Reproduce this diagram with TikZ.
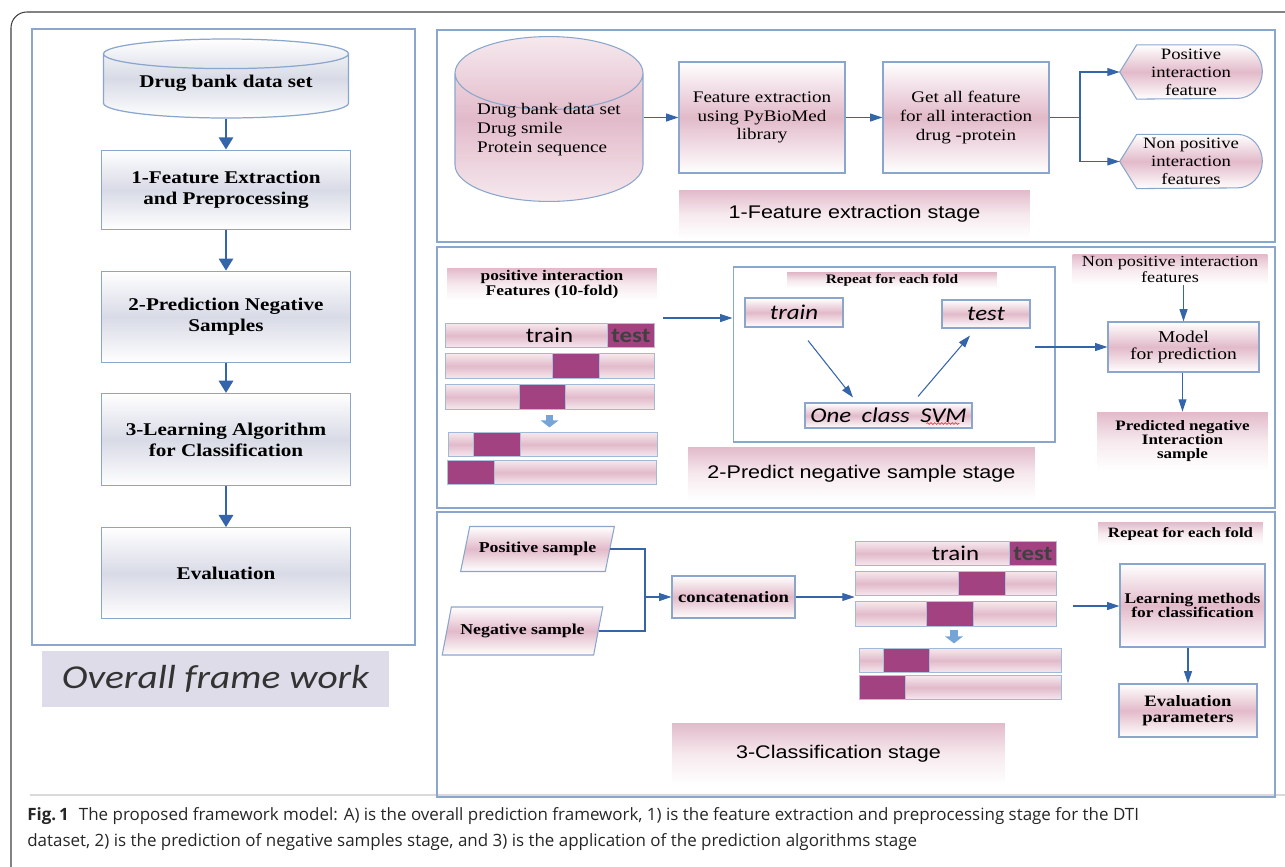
\documentclass[tikz,border=0pt]{standalone}
\usepackage{fontspec}
\setmainfont{Liberation Serif}
\newfontfamily\figserif[FakeStretch=1.18]{Liberation Serif}
\newfontfamily\figsans[FakeStretch=1.18]{Liberation Sans}
\newfontfamily\figcalib[FakeStretch=1.18]{Carlito}
\newfontfamily\capsans{Open Sans}
\usepackage{tikz}
\usetikzlibrary{arrows.meta, positioning, shapes.geometric, backgrounds, decorations.pathmorphing}
\definecolor{frameblue}{RGB}{138,166,204}
\definecolor{arrowblue}{RGB}{52,100,170}
\definecolor{boxgray}{RGB}{216,218,230}
\definecolor{rosefill}{RGB}{226,186,201}
\definecolor{roselight}{RGB}{246,233,238}
\definecolor{testmag}{RGB}{163,66,128}
\definecolor{labelgray}{RGB}{221,220,232}
\definecolor{foldblue}{RGB}{118,164,214}

\begin{document}
\begin{tikzpicture}[
    x=0.02cm, y=-0.02cm,
    panel/.style={draw=frameblue, line width=1.2pt},
    leftbox/.style={rectangle, draw=frameblue, line width=0.7pt, top color=white, bottom color=white,
                    middle color=boxgray, minimum width=4.98cm, align=center,
                    font=\figserif\bfseries\fontsize{10.2}{11.8}\selectfont},
    rosebox/.style={rectangle, draw=frameblue, line width=0.6pt, top color=white, bottom color=white,
                    middle color=rosefill, align=center, inner sep=1pt},
    roselabel/.style={rectangle, top color=rosefill, bottom color=white, middle color=roselight,
                    align=center, inner sep=1pt},
    stagelabel/.style={roselabel, font=\figsans\fontsize{10.4}{12}\selectfont},
    serifsmall/.style={font=\figserif\fontsize{9.2}{10.6}\selectfont},
    boldsmall/.style={font=\figserif\bfseries\fontsize{8.4}{8.6}\selectfont},
    fold/.style={rectangle, draw=frameblue!80, line width=0.5pt, top color=roselight, bottom color=roselight,
                 middle color=rosefill, minimum width=4.18cm, minimum height=0.49cm, inner sep=0pt,
                 font=\figcalib\fontsize{12}{12}\selectfont},
    testblk/.style={rectangle, fill=testmag, draw=frameblue!70, line width=0.4pt, minimum width=0.93cm,
                    minimum height=0.49cm, inner sep=0pt, font=\figcalib\bfseries\fontsize{12}{12}\selectfont,
                    text=black!75},
    dispnode/.style={rectangle, minimum width=2.84cm, minimum height=1.07cm, inner sep=0pt, align=center,
                     font=\figserif\fontsize{9}{10.2}\selectfont},
    dispfill/.style={draw=frameblue, line width=0.6pt, top color=white, bottom color=white, middle color=rosefill},
    sample/.style={trapezium, trapezium left angle=60, trapezium right angle=120, trapezium stretches=true,
                   draw=frameblue, line width=0.6pt, top color=white, bottom color=white, middle color=rosefill,
                   minimum width=3.1cm, minimum height=0.9cm, inner sep=0pt,
                   font=\figserif\bfseries\fontsize{8.6}{9}\selectfont},
    thinline/.style={arrowblue, line width=0.6pt},
    thinarrow/.style={thinline, -{Triangle[length=7pt,width=4.5pt]}},
    thickarrow/.style={-{Triangle[length=7pt,width=8pt]}, arrowblue, line width=1.7pt},
    blockarrow/.style={-{Triangle[length=4pt,width=10pt]}, foldblue, line width=4.5pt}
]
\useasboundingbox (0,0) rectangle (1285,866);

% figure frame
\draw[black!75, line width=0.6pt, rounded corners=9pt] (11,12) rectangle (1310,890);
\draw[black!15, line width=0.8pt] (30,795) -- (1285,795);

% overall framework
\draw[panel] (32,29) rectangle (415,645);
\node[cylinder, shape border rotate=90, aspect=0.16, draw=frameblue, line width=0.7pt, anchor=shape center,
      minimum width=4.9cm, minimum height=1.58cm, top color=white, bottom color=white, middle color=boxgray,
      font=\figserif\bfseries\fontsize{10.2}{11.8}\selectfont] (dbank) at (226,78.5)
    {\raisebox{3pt}[\height][\depth]{Drug bank data set}};
\node[leftbox, minimum height=1.58cm, below=0.62cm of dbank] (prep) {1-Feature Extraction\\and Preprocessing};
\node[leftbox, minimum height=1.82cm, below=0.82cm of prep] (negs) {2-Prediction Negative\\Samples};
\node[leftbox, minimum height=1.84cm, below=0.6cm of negs] (learn) {3-Learning Algorithm\\for Classification};
\node[leftbox, minimum height=1.82cm, below=0.82cm of learn] (evalbox) {Evaluation};
\node[fill=labelgray, minimum width=6.94cm, minimum height=1.12cm, text=black!80,
      font=\figcalib\itshape\fontsize{19}{20}\selectfont] (overall) at (215.5,679) {Overall frame work};

\draw[thickarrow] (dbank) -- (prep);
\draw[thickarrow] (prep) -- (negs);
\draw[thickarrow] (negs) -- (learn);
\draw[thickarrow] (learn) -- (evalbox);

% 1-feature extraction stage
\draw[panel] (437,30) rectangle (1275,242);
\node[cylinder, shape border rotate=90, aspect=0.47, draw=frameblue, line width=0.6pt, anchor=shape center,
      minimum width=3.76cm, minimum height=3.04cm, top color=roselight, bottom color=roselight, middle color=rosefill,
      serifsmall] (drugdb) at (549,119)
    {\raisebox{8pt}[\height][\depth]{\begin{tabular}{@{}l@{}}Drug bank data set\\Drug smile\\Protein sequence\end{tabular}}};
\node[rosebox, minimum width=3.32cm, minimum height=2.22cm, serifsmall] (fext) at (762,117.5)
    {Feature extraction\\using PyBioMed\\library};
\node[rosebox, minimum width=3.32cm, minimum height=2.22cm, serifsmall] (getall) at (966,117.5)
    {Get all feature\\for all interaction\\drug -protein};
\node[dispnode] (posfeat) at (1191,72) {Positive\\interaction\\feature};
\node[dispnode] (nonfeat) at (1191,161.5) {Non positive\\interaction\\features};
\begin{scope}[on background layer]
\foreach \d in {posfeat, nonfeat}
    \path[dispfill] (\d.west) -- ([xshift=0.34cm]\d.north west) -- ([xshift=-0.5cm]\d.north east)
        arc[start angle=90, end angle=-90, x radius=0.5cm, y radius=0.535cm] -- ([xshift=0.34cm]\d.south west) -- cycle;
\end{scope}
\node[stagelabel, minimum width=7.02cm, minimum height=0.96cm] (stage1) at (854.5,214) {1-Feature extraction stage};

\coordinate (split) at (1080,117.5);
\draw[thinarrow] (drugdb.east |- fext.west) -- (fext.west);
\draw[thinarrow] (fext) -- (getall);
\draw[thinline] (getall.east) -- (split);
\draw[thinarrow] (split) |- (posfeat.west);
\draw[thinarrow] (split) |- (nonfeat.west);

% 2-predict negative sample stage
\draw[panel] (437,247) rectangle (1275,508);
\node[roselabel, minimum width=4.2cm, minimum height=0.5cm, boldsmall] (posint) at (552,284)
    {positive interaction\\Features (10-fold)};
\node[fold] (fold1) at (549.5,335.5) {train};
\node[testblk, anchor=east] (test1) at (fold1.east) {test};
\node[fold] (fold2) at (549.5,366) {};
\node[testblk] (test2) at (576,366) {};
\node[fold] (fold3) at (549.5,397) {};
\node[testblk] (test3) at (542.5,397) {};
\node[fold] (fold4) at (552.5,444.5) {};
\node[testblk] (test4) at (497,444.5) {};
\node[fold] (fold5) at (552,472.5) {};
\node[testblk, anchor=west] (test5) at (fold5.west) {};
\draw[blockarrow, shorten <=3pt, shorten >=2.5pt] (fold3.south) -- (fold3.south |- fold4.north);

\node[draw=frameblue, line width=0.6pt, minimum width=6.44cm, minimum height=3.5cm] (repeatbox) at (894,354.5) {};
\node[roselabel, minimum width=4.2cm, minimum height=0.28cm, font=\figserif\bfseries\fontsize{7.4}{8}\selectfont]
    (rep2) at (892,280.5) {Repeat for each fold};
\node[rosebox, minimum width=1.96cm, minimum height=0.58cm, font=\figcalib\itshape\fontsize{12}{12}\selectfont]
    (trainbox) at (794,312.5) {train};
\node[rosebox, minimum width=1.76cm, minimum height=0.56cm, font=\figcalib\itshape\fontsize{12}{12}\selectfont]
    (testbox) at (986,314) {test};
\node[rosebox, minimum width=3.34cm, minimum height=0.5cm, font=\figcalib\itshape\fontsize{12}{12}\selectfont]
    (svm) at (888.5,415.5) {One\hspace{0.5em}class\hspace{0.5em}SVM};
\draw[red!80, line width=0.4pt, decorate, decoration={snake, amplitude=0.5pt, segment length=2pt}]
    ([xshift=0.76cm,yshift=-0.16cm]svm.center) -- ([xshift=1.42cm,yshift=-0.16cm]svm.center);
\draw[thinarrow] ([xshift=0.28cm,yshift=-0.26cm]trainbox.south) -- ([xshift=-0.71cm,yshift=0.1cm]svm.north);
\draw[thinarrow] ([xshift=0.59cm,yshift=0.12cm]svm.north) -- ([xshift=-0.32cm,yshift=-0.14cm]testbox.south);

\node[roselabel, minimum width=3.9cm, font=\figserif\fontsize{8.8}{9.4}\selectfont] (nonpos) at (1170,269.5)
    {Non positive interaction\\features};
\node[rosebox, minimum width=3.02cm, minimum height=1.0cm, font=\figserif\fontsize{9.4}{10}\selectfont]
    (model) at (1183.5,347) {Model\\for prediction};
\node[roselabel, minimum width=3.42cm, minimum height=1.16cm, font=\figserif\bfseries\fontsize{8.2}{8.2}\selectfont]
    (predneg) at (1182.5,441) {Predicted negative\\Interaction\\sample};
\node[stagelabel, minimum width=6.94cm, minimum height=1.06cm] (stage2) at (861.5,473.5) {2-Predict negative sample stage};

\coordinate (foldout) at (663,318);
\coordinate (repout) at (1035,347);
\draw[thinarrow] (foldout) -- (foldout -| repeatbox.west);
\draw[thinarrow] (repout) -- (model.west);
\draw[thinarrow] (nonpos.south -| model.north) -- (model.north);
\draw[thinarrow] (model.south -| predneg.north) -- (predneg.north);

% 3-classification stage
\draw[panel] (437,512) rectangle (1275,797);
\node[sample] (possample) at (537.5,549) {Positive sample};
\node[sample, minimum width=3.22cm, minimum height=0.96cm] (negsample) at (522.5,631) {Negative sample};
\node[rosebox, minimum width=2.46cm, minimum height=0.84cm, font=\figserif\bfseries\fontsize{9}{10}\selectfont]
    (concat) at (733.5,597) {concatenation};

\node[fold, minimum width=4.02cm] (cfold1) at (955.5,553.5) {train};
\node[testblk, anchor=east] (ctest1) at (cfold1.east) {test};
\node[fold, minimum width=4.02cm] (cfold2) at (955.5,583.5) {};
\node[testblk] (ctest2) at (982,583.5) {};
\node[fold, minimum width=4.02cm] (cfold3) at (955.5,614) {};
\node[testblk] (ctest3) at (950,614) {};
\node[fold, minimum width=4.04cm] (cfold4) at (960,660.5) {};
\node[testblk] (ctest4) at (906.5,660.5) {};
\node[fold, minimum width=4.04cm] (cfold5) at (960,687.5) {};
\node[testblk, anchor=west] (ctest5) at (cfold5.west) {};
\draw[blockarrow, shorten <=2pt, shorten >=2.5pt] ([xshift=-0.03cm]cfold3.south) -- ([xshift=-0.03cm]cfold3.south |- cfold4.north);

\node[roselabel, minimum width=3.3cm, minimum height=0.46cm, font=\figserif\bfseries\fontsize{8.1}{8.5}\selectfont]
    (rep3) at (1180.5,533.5) {Repeat for each fold};
\node[rosebox, minimum width=2.9cm, minimum height=1.66cm, font=\figserif\bfseries\fontsize{8.4}{8.2}\selectfont]
    (learnbox) at (1192.5,605.5) {Learning methods\\for classification};
\node[rosebox, minimum width=2.76cm, minimum height=1.06cm, font=\figserif\bfseries\fontsize{9}{9.4}\selectfont]
    (evalpar) at (1188,710.5) {Evaluation\\parameters};
\node[stagelabel, minimum width=6.66cm, minimum height=1.24cm] (stage3) at (838.5,754) {3-Classification stage};

\coordinate (merge) at (645,597);
\coordinate (cfoldout) at (1073,606);
\draw[thinline] (possample.east) -| (merge);
\draw[thinline] (negsample.east) -| (merge);
\draw[thinarrow] (merge) -- (concat.west);
\draw[thinarrow] (concat.east) -- (concat.east -| cfold2.west);
\draw[thinarrow] (cfoldout) -- (cfoldout -| learnbox.west);
\draw[thinarrow] (learnbox.south -| evalpar.north) -- (evalpar.north);

% caption
\node[anchor=north west, align=left, inner sep=0pt, text=black!85, font=\capsans\fontsize{9.65}{14.9}\selectfont]
    (caption) at (27,807) {\textbf{Fig.\,1}\hspace{0.6em}The proposed framework model: A) is the overall prediction framework, 1) is the feature extraction and preprocessing stage for the DTI\\dataset, 2) is the prediction of negative samples stage, and 3) is the application of the prediction algorithms stage};
\end{tikzpicture}
\end{document}
